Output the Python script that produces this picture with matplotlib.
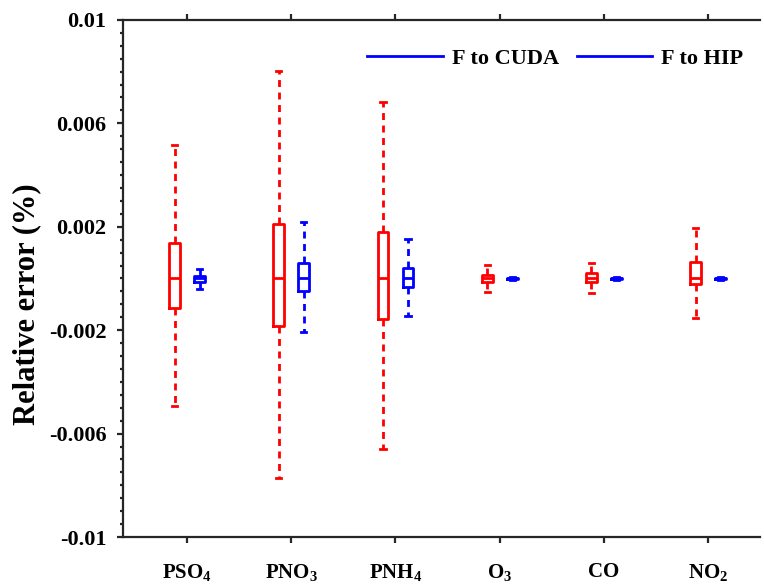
import matplotlib
matplotlib.use('Agg')
import matplotlib.pyplot as plt
from matplotlib.lines import Line2D
from matplotlib.ticker import MultipleLocator

plt.rcParams['font.family'] = ['Liberation Serif', 'DejaVu Serif']
plt.rcParams['font.weight'] = 'bold'
plt.rcParams['mathtext.fontset'] = 'custom'
plt.rcParams['mathtext.rm'] = 'Liberation Serif:bold'
plt.rcParams['mathtext.bf'] = 'Liberation Serif:bold'
plt.rcParams['mathtext.default'] = 'bf'

species = ['PSO$_4$', 'PNO$_3$', 'PNH$_4$', 'O$_3$', 'CO', 'NO$_2$']

# F to CUDA (red)
cuda_whislo = [-0.00493, -0.00772, -0.00660, -0.00052, -0.00056, -0.00153]
cuda_q1 = [-0.00114, -0.00184, -0.00157, -0.00014, -0.00014, -0.00020]
cuda_med = [0.0, 0.0, 0.0, 0.0, 0.0, 0.0]
cuda_q3 = [0.00137, 0.00211, 0.00180, 0.00014, 0.00021, 0.00064]
cuda_whishi = [0.00516, 0.00803, 0.00683, 0.00052, 0.00060, 0.00196]

# F to HIP (blue)
hip_whislo = [-0.00040, -0.00207, -0.00145, -0.00005, -0.00005, -0.00006]
hip_q1 = [-0.00013, -0.00048, -0.00033, -0.00003, -0.00003, -0.00003]
hip_med = [0.0, 0.0, 0.0, 0.0, 0.0, 0.0]
hip_q3 = [0.00010, 0.00060, 0.00041, 0.00003, 0.00003, 0.00003]
hip_whishi = [0.00037, 0.00219, 0.00153, 0.00005, 0.00005, 0.00006]


def make_stats(lo, q1, med, q3, hi):
    return [dict(whislo=a, q1=b, med=c, q3=d, whishi=e, fliers=[])
            for a, b, c, d, e in zip(lo, q1, med, q3, hi)]


fig = plt.figure(figsize=(7.64, 5.85), dpi=100)
ax = fig.add_axes([0.161, 0.082, 0.834, 0.884])

pos = list(range(1, len(species) + 1))
offset = 0.12
width = 0.105

for stats, color, sh in [(make_stats(cuda_whislo, cuda_q1, cuda_med, cuda_q3, cuda_whishi), 'red', -offset),
                         (make_stats(hip_whislo, hip_q1, hip_med, hip_q3, hip_whishi), 'blue', offset)]:
    ax.bxp(stats, positions=[p + sh for p in pos], widths=width, showfliers=False,
           capwidths=0.05,
           boxprops=dict(color=color, linewidth=2),
           medianprops=dict(color=color, linewidth=2),
           whiskerprops=dict(color=color, linewidth=2, linestyle=(0, (2.5, 2))),
           capprops=dict(color=color, linewidth=2),
           manage_ticks=False)

ax.set_xlim(0.385, 6.5)
ax.set_ylim(-0.01, 0.01)
ax.set_xticks(pos)
ax.set_xticklabels(species, fontsize=15, fontweight='bold')
ax.set_yticks([0.01, 0.006, 0.002, -0.002, -0.006, -0.01])
ax.set_yticklabels(['0.01', '0.006', '0.002', '-0.002', '-0.006', '-0.01'],
                   fontsize=16, fontweight='bold')
ax.yaxis.set_minor_locator(MultipleLocator(0.0005))

ax.spines['right'].set_visible(False)
for s in ['left', 'top', 'bottom']:
    ax.spines[s].set_linewidth(1.6)
    ax.spines[s].set_color('#262626')

ax.tick_params(axis='x', which='major', direction='out', length=4, width=1.6,
               color='#262626', pad=14, top=True, labeltop=False)
ax.tick_params(axis='y', which='major', direction='out', length=4, width=1.6,
               color='#262626', pad=8)
ax.tick_params(axis='y', which='minor', direction='out', length=2.5, width=1.6,
               color='#262626')

ax.set_ylabel('Relative error (%)', fontsize=22, fontweight='bold')
ax.yaxis.set_label_coords(-0.128, 0.45)

handles = [Line2D([], [], color='blue', linewidth=2),
           Line2D([], [], color='blue', linewidth=2)]
ax.legend(handles, ['F to CUDA', 'F to HIP'], ncol=2, frameon=False,
          loc='center right', bbox_to_anchor=(1.005, 0.925),
          prop=dict(family='Liberation Serif', weight='bold', size=16),
          handlelength=3.4, columnspacing=0.8, handletextpad=0.4)

plt.savefig('out.png', dpi=100)
